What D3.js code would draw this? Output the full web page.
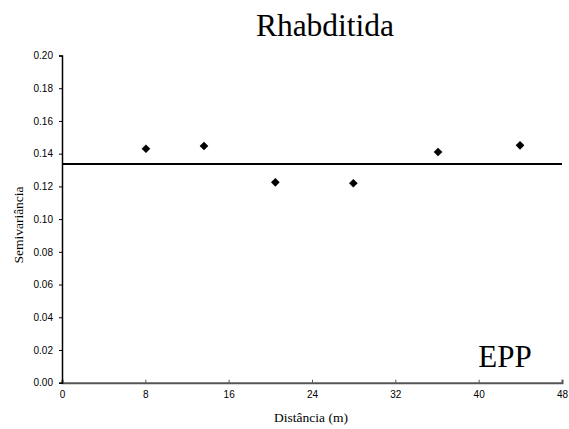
<!DOCTYPE html>
<html>
<head>
<meta charset="utf-8">
<script src="https://cdn.jsdelivr.net/npm/d3@7"></script>
<style>
  html, body { margin: 0; padding: 0; background: #fff; }
  svg { display: block; }
  .serif { font-family: "Liberation Serif", "Times New Roman", serif; }
  .sans { font-family: "Liberation Sans", Arial, sans-serif; }
</style>
</head>
<body>
<svg id="chart" width="569" height="429"></svg>
<script>
// Semivariogram of Rhabditida counts: experimental points and fitted pure-nugget model
const distances = [8.06, 13.63, 20.48, 27.97, 36.1, 43.97];
const semivariance = [0.143, 0.1447, 0.1225, 0.1219, 0.141, 0.1451];
const nuggetSill = 0.1337;
const xTicks = [0, 8, 16, 24, 32, 40, 48];
const yTicks = [0, 0.02, 0.04, 0.06, 0.08, 0.10, 0.12, 0.14, 0.16, 0.18, 0.20];

const svg = d3.select("#chart");
const margin = { left: 62, right: 7, top: 55.5, bottom: 46.3 };
const W = 569, H = 429;

const x = d3.scaleLinear().domain([0, 48]).range([margin.left, W - margin.right]);
const y = d3.scaleLinear().domain([0, 0.2]).range([H - margin.bottom, margin.top]);

// Title
svg.append("text")
  .attr("class", "serif")
  .attr("x", 325).attr("y", 36)
  .attr("text-anchor", "middle")
  .style("font-size", "31.5px")
  .text("Rhabditida");

// X axis
const xAxis = svg.append("g")
  .attr("transform", `translate(0,${y(0)})`)
  .call(d3.axisBottom(x).tickValues(xTicks).tickSize(-3).tickPadding(8).tickFormat(d3.format("d")));
xAxis.attr("font-family", null);
xAxis.select(".domain").attr("stroke", "#555").attr("stroke-width", 2);
xAxis.selectAll(".tick line").attr("stroke", "#555");
xAxis.selectAll(".tick text")
  .attr("class", "sans")
  .style("font-size", "10px").attr("fill", "#000");

// Y axis
const yAxis = svg.append("g")
  .attr("transform", `translate(${x(0)},0)`)
  .call(d3.axisLeft(y).tickValues(yTicks).tickSize(3).tickPadding(6).tickFormat(d3.format(".2f")));
yAxis.attr("font-family", null);
yAxis.select(".domain").attr("stroke", "#000").attr("stroke-width", 1.5);
yAxis.selectAll(".tick line").attr("stroke", "#000");
yAxis.selectAll(".tick text")
  .attr("class", "sans")
  .style("font-size", "10px").attr("fill", "#000");

// Axis titles
svg.append("text")
  .attr("class", "serif")
  .attr("x", 311).attr("y", 422)
  .attr("text-anchor", "middle")
  .style("font-size", "13.5px")
  .text("Distância (m)");

svg.append("text")
  .attr("class", "serif")
  .attr("transform", "translate(23,225) rotate(-90)")
  .attr("text-anchor", "middle")
  .style("font-size", "13.5px")
  .text("Semivariância");

// Fitted model line
svg.append("line")
  .attr("x1", x(0)).attr("x2", x(48))
  .attr("y1", y(nuggetSill)).attr("y2", y(nuggetSill))
  .attr("stroke", "#000").attr("stroke-width", 2);

// Experimental semivariance points (diamonds)
const diamond = d3.symbol().type(d3.symbolDiamond2).size(48);
svg.append("g").selectAll("path")
  .data(distances.map((d, i) => [d, semivariance[i]]))
  .join("path")
  .attr("d", diamond)
  .attr("transform", d => `translate(${x(d[0])},${y(d[1])})`)
  .attr("fill", "#000");

// Annotation
svg.append("text")
  .attr("class", "serif")
  .attr("x", 505).attr("y", 367)
  .attr("text-anchor", "middle")
  .style("font-size", "31px")
  .text("EPP");
</script>
</body>
</html>
